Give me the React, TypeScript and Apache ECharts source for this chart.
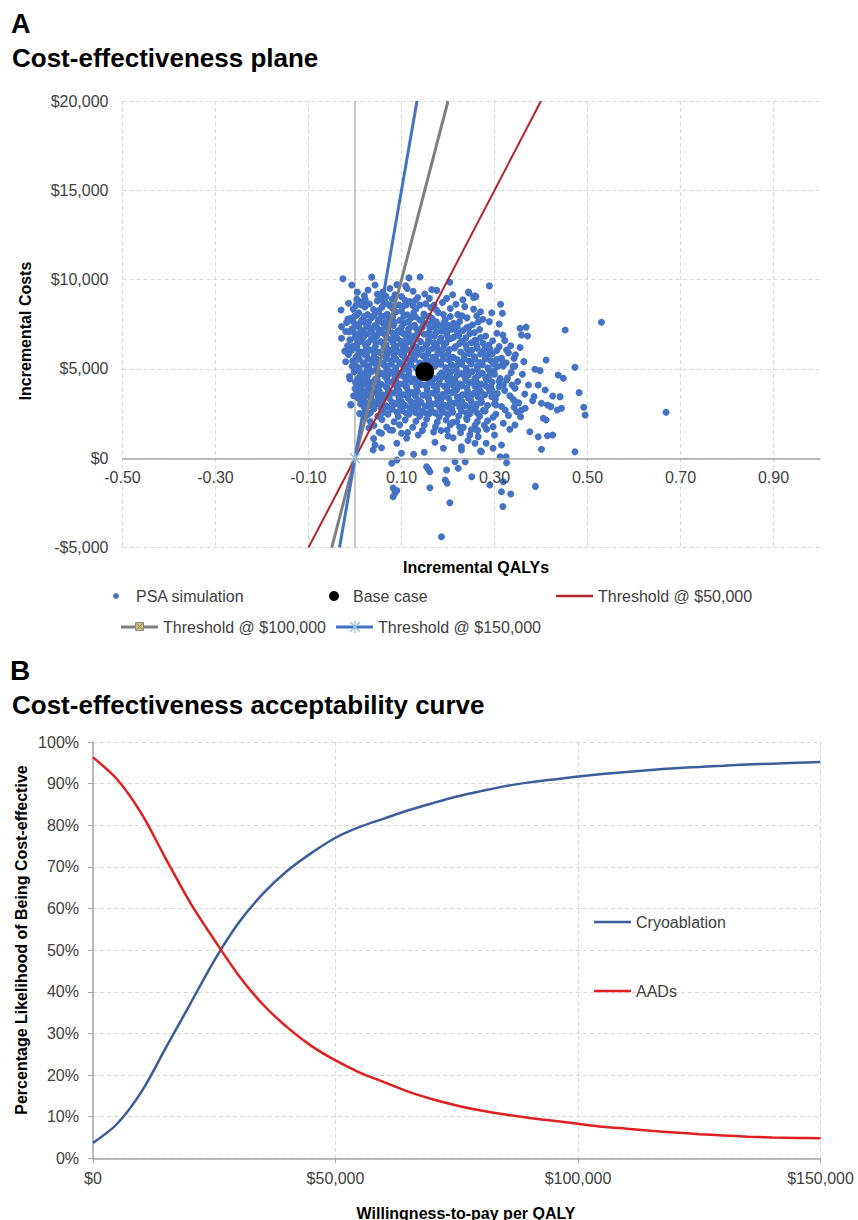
import React, { useEffect, useRef } from "react";
import * as echarts from "echarts";

// ---------- Panel A data ----------
const planeXTicks = [-0.5, -0.3, -0.1, 0.1, 0.3, 0.5, 0.7, 0.9];
const planeYTicks = [-5000, 0, 5000, 10000, 15000, 20000];

// PSA simulation points: [incremental QALYs, incremental costs]
const psaPoints: [number, number][] = [
  // upper sparse
  [-0.026, 10050], [0.036, 10140], [0.116, 10100], [0.14, 10150], [-0.007, 9700], [0.043, 9700], [0.09, 9720],
  [0.109, 9650], [0.204, 9850], [0.289, 9650], [0.176, 9400], [0.06, 9300], [0.075, 9500], [0.125, 9350],
  [0.15, 9200], [0.02, 9100], [0.1, 9050], [0.135, 9000], [0.165, 9450], [0.21, 9150], [0.245, 9250],
  [0.255, 9000], [0.056, 8950], [0.086, 9150], [0.26, 9050], [0.232, 8870], [0.217, 8620], [0.255, 8350],
  [0.27, 8200], [0.197, 8950], [0.244, 9300],
  // left edge
  [-0.03, 8300], [-0.014, 8680], [-0.013, 7090], [-0.029, 7370], [-0.029, 6720], [-0.004, 6290], [0.004, 8025],
  [0.014, 8585], [0.004, 8900], [-0.022, 6000], [-0.02, 5400], [-0.012, 4570], [-0.011, 4440], [-0.009, 3025],
  [0.007, 3360], [-0.009, 2985], [-0.015, 7800],
  // dense core
  [0.012, 8760], [0.031, 8640], [0.048, 8810], [0.066, 8690], [0.095, 8580], [0.118, 8770], [0.152, 8650], [0.188, 8720],
  [-0.004, 8350], [0.021, 8470], [0.04, 8330], [0.058, 8460], [0.081, 8390], [0.103, 8510], [0.131, 8360], [0.163, 8440], [0.205, 8380], [0.236, 8490],
  [0.008, 8150], [0.027, 8040], [0.045, 8170], [0.069, 8060], [0.088, 8190], [0.112, 8030], [0.126, 8150], [0.148, 8080], [0.179, 8160], [0.221, 8040],
  [-0.009, 7840], [0.015, 7730], [0.036, 7880], [0.052, 7760], [0.074, 7850], [0.097, 7720], [0.121, 7870], [0.139, 7750], [0.166, 7820], [0.194, 7740], [0.241, 7860], [0.275, 7780],
  [0.003, 7460], [0.024, 7570], [0.043, 7430], [0.061, 7550], [0.083, 7440], [0.106, 7580], [0.128, 7450], [0.157, 7530], [0.182, 7410], [0.212, 7560], [0.253, 7470],
  [-0.006, 7250], [0.017, 7140], [0.033, 7270], [0.054, 7160], [0.071, 7280], [0.092, 7130], [0.115, 7240], [0.137, 7170], [0.161, 7260], [0.186, 7120], [0.208, 7230], [0.232, 7150], [0.268, 7210],
  [0.006, 6860], [0.026, 6970], [0.047, 6840], [0.064, 6950], [0.086, 6870], [0.104, 6980], [0.127, 6830], [0.149, 6940], [0.171, 6850], [0.197, 6960], [0.223, 6880], [0.247, 6990], [0.281, 6840],
  [-0.011, 6640], [0.013, 6550], [0.035, 6670], [0.056, 6540], [0.077, 6650], [0.098, 6560], [0.119, 6680], [0.141, 6530], [0.158, 6640], [0.183, 6570], [0.205, 6690], [0.229, 6550], [0.258, 6620], [0.296, 6580],
  [0.004, 6260], [0.022, 6370], [0.044, 6240], [0.067, 6350], [0.089, 6270], [0.108, 6380], [0.132, 6230], [0.153, 6340], [0.176, 6260], [0.192, 6390], [0.216, 6250], [0.238, 6360], [0.262, 6280], [0.288, 6340],
  [-0.008, 6040], [0.014, 5950], [0.031, 6070], [0.052, 5940], [0.073, 6060], [0.094, 5960], [0.113, 6080], [0.136, 5930], [0.159, 6050], [0.181, 5970], [0.203, 6090], [0.227, 5950], [0.251, 6040], [0.274, 5960], [0.305, 6030],
  [0.002, 5660], [0.025, 5770], [0.041, 5640], [0.062, 5750], [0.084, 5670], [0.101, 5780], [0.124, 5630], [0.146, 5740], [0.168, 5660], [0.189, 5770], [0.211, 5650], [0.235, 5760], [0.257, 5680], [0.283, 5740],
  [-0.005, 5440], [0.018, 5350], [0.036, 5470], [0.057, 5340], [0.079, 5460], [0.096, 5360], [0.118, 5480], [0.139, 5330], [0.163, 5450], [0.184, 5370], [0.202, 5490], [0.224, 5350], [0.246, 5440], [0.269, 5360], [0.292, 5470], [0.318, 5380],
  [0.009, 5060], [0.028, 5170], [0.047, 5040], [0.068, 5150], [0.088, 5070], [0.109, 5180], [0.131, 5050], [0.172, 5160], [0.195, 5080], [0.218, 5170], [0.239, 5040], [0.263, 5150], [0.286, 5060], [0.307, 5140],
  [-0.002, 4840], [0.016, 4750], [0.037, 4870], [0.058, 4740], [0.075, 4860], [0.097, 4760], [0.116, 4880], [0.186, 4770], [0.207, 4860], [0.229, 4740], [0.252, 4850], [0.274, 4760], [0.299, 4870],
  [0.006, 4460], [0.024, 4570], [0.044, 4440], [0.065, 4550], [0.086, 4470], [0.105, 4580], [0.127, 4430], [0.149, 4540], [0.171, 4460], [0.193, 4570], [0.214, 4450], [0.236, 4560], [0.258, 4480], [0.281, 4540], [0.312, 4470],
  [0.001, 4240], [0.019, 4150], [0.038, 4270], [0.056, 4140], [0.078, 4260], [0.099, 4160], [0.121, 4280], [0.142, 4130], [0.164, 4250], [0.181, 4170], [0.204, 4290], [0.226, 4150], [0.248, 4240], [0.27, 4160], [0.295, 4270],
  [0.011, 3860], [0.029, 3970], [0.049, 3840], [0.069, 3950], [0.091, 3870], [0.111, 3980], [0.133, 3830], [0.155, 3940], [0.176, 3860], [0.198, 3970], [0.219, 3850], [0.241, 3960], [0.266, 3880], [0.287, 3940],
  [0.007, 3640], [0.023, 3550], [0.042, 3670], [0.061, 3540], [0.083, 3660], [0.104, 3560], [0.123, 3680], [0.146, 3530], [0.167, 3650], [0.188, 3570], [0.209, 3690], [0.231, 3550], [0.256, 3640], [0.279, 3560], [0.306, 3620],
  [0.016, 3260], [0.034, 3370], [0.053, 3240], [0.074, 3350], [0.095, 3270], [0.114, 3380], [0.137, 3230], [0.158, 3340], [0.179, 3260], [0.201, 3370], [0.222, 3250], [0.244, 3360], [0.271, 3280],
  [0.012, 3040], [0.03, 2950], [0.047, 3070], [0.066, 2940], [0.087, 3060], [0.107, 2960], [0.128, 3080], [0.151, 2930], [0.172, 3050], [0.193, 2970], [0.215, 3090], [0.237, 2950], [0.262, 3040], [0.285, 2960],
  [0.022, 2660], [0.041, 2770], [0.059, 2640], [0.08, 2750], [0.101, 2670], [0.122, 2780], [0.144, 2630], [0.163, 2740], [0.186, 2660], [0.208, 2770], [0.229, 2650], [0.252, 2760], [0.276, 2680],
  [0.027, 2440], [0.049, 2350], [0.071, 2470], [0.093, 2340], [0.116, 2460], [0.139, 2360], [0.159, 2480], [0.181, 2330], [0.2, 2450], [0.223, 2370], [0.247, 2490], [0.268, 2350],
  [0.033, 2060], [0.058, 2170], [0.084, 2040], [0.108, 2150], [0.131, 2070], [0.154, 2180], [0.177, 2030], [0.196, 2140], [0.219, 2060], [0.241, 2170], [0.263, 2050],
  [0.041, 1840], [0.068, 1750], [0.096, 1870], [0.124, 1740], [0.149, 1860], [0.173, 1760], [0.205, 1880], [0.233, 1730], [0.258, 1850],
  [0.052, 1460], [0.081, 1570], [0.113, 1440], [0.145, 1550], [0.169, 1470], [0.198, 1580], [0.227, 1430], [0.264, 1560],
  // fill-in core
  [0.05, 8250], [0.074, 8560], [0.1, 8240], [0.14, 8580], [0.03, 7640], [0.085, 7620], [0.13, 7320], [0.175, 7640],
  [0.01, 7000], [0.057, 7040], [0.115, 7020], [0.16, 7050], [0.2, 6760], [0.045, 6450], [0.11, 6460], [0.145, 6120],
  [0.17, 6460], [0.02, 5830], [0.07, 5830], [0.135, 5820], [0.19, 5560], [0.22, 5530], [0.045, 5260], [0.1, 5260],
  [0.15, 5290], [0.25, 5280], [0.028, 4650], [0.085, 4650], [0.22, 4650], [0.265, 4630], [0.012, 4350], [0.07, 4340],
  [0.135, 4350], [0.2, 4350], [0.05, 4020], [0.11, 4020], [0.17, 4050], [0.23, 4060], [0.035, 3760], [0.095, 3760],
  [0.155, 3780], [0.215, 3770], [0.27, 3750], [0.06, 3460], [0.13, 3470], [0.19, 3450], [0.25, 3480], [0.04, 3160],
  [0.1, 3170], [0.16, 3150], [0.23, 3170], [0.07, 2860], [0.135, 2870], [0.2, 2860], [0.26, 2880], [0.06, 2560],
  [0.13, 2570], [0.21, 2580],
  [0.005, 9300], [0.028, 9420], [0.048, 9180], [0.067, 9050], [0.112, 9500], [0.08, 8900], [0.13, 8850], [0.16, 8950],
  [0.175, 8300], [0.19, 8050], [-0.018, 7600], [-0.02, 7100], [-0.016, 6300], [-0.014, 5800], [-0.006, 5150],
  [0.0, 3900], [-0.003, 3500], [0.01, 2500], [0.02, 2200], [0.03, 1700], [0.04, 1100], [0.022, 8900], [0.108, 8850],
  [0.06, 7950], [0.16, 7950], [0.2, 7450], [0.24, 7300], [0.26, 6500], [0.28, 6150], [0.29, 5900], [0.3, 4700],
  [0.31, 4300], [0.295, 3800], [0.3, 3050], [0.28, 2650], [0.24, 2250], [0.25, 1600], [0.21, 2000],
  // second fill layer
  [0.002, 8550], [0.022, 8560], [0.085, 8520], [0.11, 8580], [0.125, 8540], [0.17, 8560],
  [0.0, 7960], [0.02, 7930], [0.041, 7990], [0.081, 7940], [0.105, 7970], [0.13, 7920], [0.15, 7980], [0.205, 7940], [0.23, 7970],
  [-0.004, 7650], [0.012, 7620], [0.05, 7680], [0.068, 7640], [0.115, 7660], [0.146, 7630], [0.168, 7670], [0.192, 7610], [0.225, 7660], [0.265, 7630],
  [0.008, 7350], [0.025, 7370], [0.046, 7330], [0.064, 7360], [0.1, 7340], [0.12, 7380], [0.145, 7340], [0.17, 7360], [0.195, 7320], [0.22, 7370], [0.245, 7340],
  [-0.003, 7050], [0.036, 7060], [0.08, 7030], [0.098, 7070], [0.135, 7040], [0.175, 7060], [0.198, 7020], [0.22, 7060], [0.257, 7040],
  [0.0, 6750], [0.018, 6770], [0.04, 6730], [0.068, 6760], [0.09, 6740], [0.11, 6780], [0.132, 6740], [0.16, 6760], [0.185, 6730], [0.212, 6770], [0.238, 6740], [0.27, 6760],
  [0.006, 6450], [0.028, 6470], [0.06, 6430], [0.082, 6460], [0.1, 6440], [0.122, 6480], [0.156, 6440], [0.196, 6460], [0.225, 6430], [0.25, 6470], [0.275, 6450],
  [0.004, 6150], [0.024, 6170], [0.042, 6130], [0.062, 6160], [0.083, 6140], [0.104, 6180], [0.124, 6140], [0.168, 6160], [0.19, 6130], [0.214, 6170], [0.24, 6140], [0.263, 6160], [0.29, 6130],
  [0.008, 5850], [0.042, 5870], [0.062, 5830], [0.084, 5860], [0.105, 5840], [0.122, 5880], [0.156, 5840], [0.178, 5860], [0.2, 5830], [0.246, 5870], [0.27, 5840], [0.295, 5860],
  [0.009, 5550], [0.028, 5570], [0.048, 5530], [0.068, 5560], [0.088, 5540], [0.108, 5580], [0.128, 5540], [0.152, 5560], [0.174, 5530], [0.235, 5570], [0.258, 5540], [0.28, 5560], [0.305, 5530],
  [0.0, 5250], [0.02, 5270], [0.062, 5230], [0.078, 5260], [0.12, 5240], [0.14, 5280], [0.162, 5240], [0.184, 5260], [0.207, 5230], [0.23, 5270], [0.274, 5240], [0.298, 5260],
  [0.006, 4950], [0.026, 4970], [0.048, 4930], [0.068, 4960], [0.087, 4940], [0.106, 4980], [0.196, 4940], [0.218, 4960], [0.24, 4930], [0.263, 4970], [0.288, 4940],
  [0.012, 4650], [0.05, 4670], [0.07, 4630], [0.096, 4660], [0.116, 4640], [0.138, 4680], [0.16, 4640], [0.182, 4660], [0.203, 4630], [0.244, 4670], [0.29, 4640],
  [0.025, 4350], [0.048, 4370], [0.088, 4330], [0.11, 4360], [0.16, 4340], [0.182, 4380], [0.215, 4340], [0.238, 4360], [0.26, 4330], [0.283, 4370],
  [0.01, 4050], [0.03, 4070], [0.066, 4030], [0.088, 4060], [0.132, 4040], [0.152, 4080], [0.192, 4040], [0.212, 4060], [0.258, 4030], [0.28, 4070],
  [0.018, 3750], [0.052, 3770], [0.072, 3730], [0.114, 3760], [0.134, 3740], [0.176, 3780], [0.198, 3740], [0.242, 3760], [0.262, 3730], [0.29, 3770],
  [0.015, 3450], [0.032, 3470], [0.05, 3430], [0.072, 3460], [0.094, 3440], [0.114, 3480], [0.156, 3440], [0.176, 3460], [0.22, 3430], [0.242, 3470], [0.265, 3440],
  [0.022, 3150], [0.058, 3170], [0.08, 3130], [0.12, 3160], [0.142, 3140], [0.184, 3180], [0.205, 3140], [0.25, 3160], [0.272, 3130],
  [0.02, 2850], [0.04, 2870], [0.056, 2830], [0.098, 2860], [0.118, 2840], [0.16, 2880], [0.182, 2840], [0.225, 2860], [0.248, 2830],
  [0.033, 2550], [0.09, 2570], [0.11, 2530], [0.15, 2560], [0.172, 2540], [0.19, 2580], [0.24, 2540], [0.262, 2560],
  // right side
  [0.258, 9090], [0.313, 8620], [0.294, 8150], [0.317, 8120], [0.31, 7520], [0.262, 7970], [0.289, 7650],
  [0.355, 7280], [0.368, 7340], [0.358, 6900], [0.371, 6850], [0.452, 7185], [0.53, 7616], [0.326, 6065],
  [0.411, 5505], [0.473, 5096], [0.387, 4985], [0.398, 4906], [0.437, 4665], [0.448, 4480], [0.373, 4105],
  [0.394, 4105], [0.409, 3825], [0.482, 3674], [0.425, 3490], [0.441, 3450], [0.385, 3450], [0.382, 3226],
  [0.401, 3080], [0.414, 2985], [0.421, 2890], [0.435, 2705], [0.444, 2800], [0.492, 2856], [0.495, 2425],
  [0.405, 2240], [0.411, 2145], [0.358, 2705], [0.366, 2800], [0.356, 2330], [0.342, 2856], [0.376, 1490],
  [0.394, 1210], [0.414, 1266], [0.425, 1305], [0.473, 370], [0.401, 504], [0.344, 1865], [0.333, 1624],
  [0.315, 745], [0.344, 3170], [0.34, 5130], [0.344, 5170], [0.342, 5600], [0.363, 5410], [0.319, 5170],
  [0.326, 4385], [0.319, 4105], [0.344, 3920], [0.323, 2705], [0.303, 2464], [0.319, 1960], [0.297, 1770],
  [0.312, 90], [0.325, 90], [0.326, -246], [0.272, 370], [0.282, 840], [0.297, 560], [0.258, 840], [0.247, 1305],
  [0.262, 1585], [0.283, 1624], [0.303, 2985], [0.294, 3450], [0.292, 4010], [0.669, 2576],
  [0.305, 7000], [0.322, 6600], [0.31, 6250], [0.33, 5900], [0.315, 5600], [0.336, 4800], [0.328, 4500],
  [0.35, 4300], [0.31, 4000], [0.333, 3500], [0.302, 3300], [0.352, 3100], [0.297, 2300], [0.285, 2100],
  [0.278, 1850], [0.3, 1300], [0.265, 1200], [0.243, 1000], [0.27, 400], [0.225, 1750], [0.2, 1250], [0.185, 1550],
  [0.318, 6900], [0.335, 6300], [0.345, 5800], [0.325, 5350], [0.338, 4100], [0.322, 3800], [0.34, 3300],
  [0.315, 2900], [0.33, 2400], [0.36, 4700], [0.355, 6200], [0.365, 3600], [0.348, 2600],
  // low / below zero
  [0.043, 745], [0.039, 465], [0.057, 594], [0.09, 840], [0.111, 1120], [0.126, 224], [0.149, 336], [0.172, 896],
  [0.19, 560], [0.211, 1154], [0.229, 650], [0.057, 1400], [0.075, 1585], [0.1, 1400], [0.136, 1305],
  [0.079, -280], [0.09, -95], [0.1, 280], [0.154, -470], [0.161, -750], [0.197, -655], [0.215, -190], [0.222, -560],
  [0.237, -190], [0.229, 465], [0.082, -2150], [0.082, -1660], [0.09, -1800], [0.086, -1950], [0.161, -1646],
  [0.158, -616], [0.194, -1215], [0.198, -1400], [0.251, -1030], [0.315, -1870], [0.319, -1310], [0.29, -1495],
  [0.186, -4390], [0.204, -2486], [0.388, -1574], [0.335, -2000], [0.318, -2700],
];

const baseCase: [number, number][] = [[0.15, 4840]];
const threshold50k: [number, number][] = [[-0.1, -5000], [0, 0], [0.4, 20000]];
const threshold100k: [number, number][] = [[-0.05, -5000], [0, 0], [0.2, 20000]];
const threshold150k: [number, number][] = [[-0.0333, -5000], [0, 0], [0.1333, 20000]];

// ---------- Panel B data ----------
const wtp = [
  0, 5000, 10000, 15000, 20000, 25000, 30000, 35000, 40000, 45000, 50000, 55000, 60000, 65000, 70000, 75000,
  80000, 85000, 90000, 95000, 100000, 105000, 110000, 115000, 120000, 125000, 130000, 135000, 140000, 145000, 150000,
];
const cryoablation = [
  3.7, 8.3, 16.0, 26.5, 37.0, 47.5, 56.5, 63.5, 69.0, 73.3, 77.0, 79.6, 81.6, 83.6, 85.3, 86.9,
  88.2, 89.4, 90.3, 91.0, 91.7, 92.3, 92.8, 93.3, 93.7, 94.0, 94.3, 94.6, 94.8, 95.0, 95.2,
];
const aads = [
  96.3, 91.0, 82.8, 72.0, 61.5, 52.5, 44.0, 37.0, 31.5, 27.0, 23.5, 20.6, 18.3, 16.0, 14.2, 12.7,
  11.5, 10.5, 9.7, 9.0, 8.3, 7.6, 7.1, 6.6, 6.2, 5.8, 5.5, 5.2, 5.0, 4.9, 4.8,
];
const ceacXTicks = [0, 50000, 100000, 150000];
const ceacYTicks = [0, 10, 20, 30, 40, 50, 60, 70, 80, 90, 100];

const FONT = "'Liberation Sans', Arial, sans-serif";
const LABEL = "#404040";
const GRIDC = "#D9D9D9";
const AXISC = "#A6A6A6";
const PSA_BLUE = "#4472C4";
const RED_A = "#B0262C";
const GRAY_A = "#7F7F7F";
const BLUE_B = "#3B5E9A";
const RED_B = "#E02020";

function money(v: number) {
  const s = Math.abs(v).toLocaleString("en-US");
  return v < 0 ? "-$" + s : "$" + s;
}

export default function App() {
  const ref = useRef<HTMLDivElement>(null);
  useEffect(() => {
    document.body.style.margin = "0";
    const chart = echarts.init(ref.current!, null, { renderer: "svg" });
    const legendText = { color: LABEL, fontSize: 16, fontFamily: FONT };
    const mkLegend = (name: string, left: number, top: number, w: number, h: number, icon: string, color: string) => ({
      data: [{ name, icon }],
      left,
      top,
      padding: 0,
      itemWidth: w,
      itemHeight: h,
      itemGap: 0,
      itemStyle: { color, borderWidth: 0 },
      lineStyle: { opacity: 0 },
      textStyle: legendText,
      selectedMode: false,
    });
    const txt = (text: string, x: number, y: number, font: string, align = "left", rot = 0) => ({
      type: "text",
      x,
      y,
      rotation: rot,
      style: {
        text,
        font,
        fill: "#000",
        align,
        verticalAlign: "middle",
        textAlign: align,
        textVerticalAlign: "middle",
      },
    });
    const option: any = {
      animation: false,
      textStyle: { fontFamily: FONT },
      graphic: [
        txt("A", 11, 24, `bold 27px ${FONT}`),
        txt("Cost-effectiveness plane", 12, 58, `bold 26px ${FONT}`),
        txt("Incremental Costs", 25, 331, `bold 16px ${FONT}`, "center", Math.PI / 2),
        txt("Incremental QALYs", 476, 567, `bold 16px ${FONT}`, "center"),
        txt("B", 10, 670, `bold 28px ${FONT}`),
        txt("Cost-effectiveness acceptability curve", 12, 705, `bold 26px ${FONT}`),
        txt("Percentage Likelihood of Being Cost-effective", 21, 940, `bold 16px ${FONT}`, "center", Math.PI / 2),
        txt("Willingness-to-pay per QALY", 466, 1213, `bold 16px ${FONT}`, "center"),
        // legend markers on the threshold lines
        {
          type: "rect",
          z: 100,
          shape: { x: 135.5, y: 622.5, width: 8, height: 8 },
          style: { fill: "#D2B96F", stroke: "#8C8C8C", lineWidth: 1 },
        },
        {
          type: "line",
          z: 101,
          shape: { x1: 136.5, y1: 623.5, x2: 142.5, y2: 629.5 },
          style: { stroke: "#8C8C8C", lineWidth: 1 },
        },
        {
          type: "line",
          z: 101,
          shape: { x1: 142.5, y1: 623.5, x2: 136.5, y2: 629.5 },
          style: { stroke: "#8C8C8C", lineWidth: 1 },
        },
        {
          type: "line",
          z: 101,
          shape: { x1: 350, y1: 622, x2: 360, y2: 632 },
          style: { stroke: "#9DC3E6", lineWidth: 1.5 },
        },
        {
          type: "line",
          z: 101,
          shape: { x1: 360, y1: 622, x2: 350, y2: 632 },
          style: { stroke: "#9DC3E6", lineWidth: 1.5 },
        },
        {
          type: "line",
          z: 101,
          shape: { x1: 355, y1: 621, x2: 355, y2: 633 },
          style: { stroke: "#9DC3E6", lineWidth: 1.5 },
        },
      ],
      legend: [
        mkLegend("PSA simulation", 113, 588, 30, 6, "circle", PSA_BLUE),
        mkLegend("Base case", 329, 588, 28, 10, "circle", "#000"),
        mkLegend("Threshold @ $50,000", 556, 588, 37, 2.5, "rect", RED_A),
        mkLegend("Threshold @ $100,000", 121, 619, 37, 3, "rect", GRAY_A),
        mkLegend("Threshold @ $150,000", 336, 619, 37, 3, "rect", PSA_BLUE),
        mkLegend("Cryoablation", 594, 914, 37, 2.5, "rect", BLUE_B),
        mkLegend("AADs", 594, 983, 37, 2.5, "rect", RED_B),
      ],
      grid: [
        { left: 122.5, top: 101, width: 697.5, height: 446.6 },
        { left: 93, top: 742, width: 727.5, height: 416.3 },
      ],
      xAxis: [
        {
          // labels + zero line of panel A (drawn above the points)
          type: "value",
          gridIndex: 0,
          min: planeXTicks[0],
          max: 1.0,
          interval: 0.2,
          position: "bottom",
          offset: -89.3,
          z: 5,
          axisLine: { show: true, onZero: false, lineStyle: { color: AXISC, width: 1.5 } },
          axisTick: { show: false },
          axisLabel: {
            color: LABEL,
            fontSize: 16,
            margin: 11,
            showMaxLabel: false,
            formatter: (v: number) => (v > 0.95 ? "" : v.toFixed(2)),
          },
          splitLine: { show: false },
        },
        {
          type: "value",
          gridIndex: 1,
          min: ceacXTicks[0],
          max: ceacXTicks[ceacXTicks.length - 1],
          interval: 50000,
          axisLine: { lineStyle: { color: AXISC, width: 1.5 } },
          axisTick: { show: true, length: 5, lineStyle: { color: AXISC } },
          axisLabel: { color: LABEL, fontSize: 16, margin: 12, formatter: (v: number) => money(v) },
          splitLine: { show: true, lineStyle: { color: GRIDC, type: [4, 3] } },
        },
        {
          // vertical gridlines of panel A (below the points)
          type: "value",
          gridIndex: 0,
          min: planeXTicks[0],
          max: 1.0,
          interval: 0.2,
          position: "top",
          z: 0,
          axisLine: { show: false },
          axisTick: { show: false },
          axisLabel: { show: false },
          splitLine: { show: true, showMaxLine: false, lineStyle: { color: GRIDC, type: [4, 3] } },
        },
      ],
      yAxis: [
        {
          type: "value",
          gridIndex: 0,
          min: planeYTicks[0],
          max: planeYTicks[planeYTicks.length - 1],
          interval: 5000,
          axisLine: { show: false, onZero: false },
          axisTick: { show: false },
          axisLabel: { color: LABEL, fontSize: 16, margin: 14, formatter: (v: number) => money(v) },
          splitLine: { show: true, lineStyle: { color: GRIDC, type: [4, 3] } },
        },
        {
          type: "value",
          gridIndex: 1,
          min: ceacYTicks[0],
          max: ceacYTicks[ceacYTicks.length - 1],
          interval: 10,
          axisLine: { show: true, lineStyle: { color: AXISC, width: 1.5 } },
          axisTick: { show: true, length: 5, lineStyle: { color: AXISC } },
          axisLabel: { color: LABEL, fontSize: 16, margin: 14, formatter: (v: number) => v + "%" },
          splitLine: { show: true, lineStyle: { color: GRIDC, type: [4, 3] } },
        },
      ],
      series: [
        {
          name: "y-axis",
          type: "line",
          xAxisIndex: 0,
          yAxisIndex: 0,
          data: [[0, planeYTicks[0]], [0, planeYTicks[planeYTicks.length - 1]]],
          symbol: "none",
          lineStyle: { color: AXISC, width: 1.2 },
          z: 1,
          silent: true,
        },
        {
          name: "PSA simulation",
          type: "scatter",
          xAxisIndex: 0,
          yAxisIndex: 0,
          data: psaPoints,
          symbol: "circle",
          symbolSize: 7,
          itemStyle: { color: PSA_BLUE, opacity: 1 },
          z: 2,
        },
        {
          name: "Threshold @ $50,000",
          type: "line",
          xAxisIndex: 0,
          yAxisIndex: 0,
          data: threshold50k,
          symbol: "none",
          lineStyle: { color: RED_A, width: 2 },
          itemStyle: { color: RED_A },
          z: 3,
        },
        {
          name: "Threshold @ $100,000",
          type: "line",
          xAxisIndex: 0,
          yAxisIndex: 0,
          data: threshold100k,
          symbol: "none",
          lineStyle: { color: GRAY_A, width: 3 },
          itemStyle: { color: GRAY_A },
          z: 3,
        },
        {
          name: "Threshold @ $150,000",
          type: "line",
          xAxisIndex: 0,
          yAxisIndex: 0,
          data: threshold150k.map((p) => (p[0] === 0 ? { value: p } : { value: p, symbol: "none" })),
          symbol: "path://M0,0L10,10M10,0L0,10M5,0L5,10",
          symbolSize: 10,
          lineStyle: { color: PSA_BLUE, width: 3 },
          itemStyle: { color: "rgba(0,0,0,0)", borderColor: "#9DC3E6", borderWidth: 1.5 },
          z: 4,
        },
        {
          name: "Base case",
          type: "scatter",
          xAxisIndex: 0,
          yAxisIndex: 0,
          data: baseCase,
          symbol: "circle",
          symbolSize: 19,
          itemStyle: { color: "#000", opacity: 1 },
          z: 6,
        },
        {
          name: "Cryoablation",
          type: "line",
          xAxisIndex: 1,
          yAxisIndex: 1,
          data: wtp.map((w, i) => [w, cryoablation[i]]),
          smooth: 0.3,
          symbol: "none",
          lineStyle: { color: BLUE_B, width: 2.5 },
          itemStyle: { color: BLUE_B },
        },
        {
          name: "AADs",
          type: "line",
          xAxisIndex: 1,
          yAxisIndex: 1,
          data: wtp.map((w, i) => [w, aads[i]]),
          smooth: 0.3,
          symbol: "none",
          lineStyle: { color: RED_B, width: 2.5 },
          itemStyle: { color: RED_B },
        },
      ],
    };
    chart.setOption(option);
    return () => chart.dispose();
  }, []);
  return <div ref={ref} style={{ width: 858, height: 1220 }} />;
}
